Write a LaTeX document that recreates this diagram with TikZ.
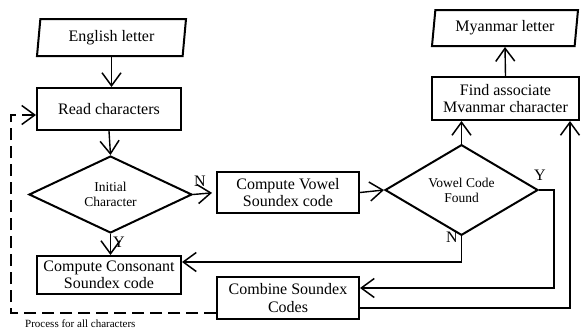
\documentclass[tikz,border=0pt]{standalone}
\usepackage{fontspec}
\setmainfont{Liberation Serif}
\usetikzlibrary{shapes.geometric,arrows.meta}

\begin{document}
\begin{tikzpicture}[x=1pt,y=-1pt,
    proc/.style={draw, line width=2pt, rectangle, inner sep=0pt, align=center,
      font=\fontsize{16}{17.5}\selectfont},
    io/.style={draw, line width=2pt, trapezium, trapezium left angle=77,
      trapezium right angle=103, trapezium stretches body, inner sep=0pt,
      font=\fontsize{16}{17.5}\selectfont},
    test/.style={draw, line width=2pt, diamond, inner sep=0pt, align=center,
      font=\fontsize{13.5}{15}\selectfont},
    link/.style={-{Straight Barb[length=13pt,width=19pt,line width=1.5pt]}, line width=1.4pt},
    lbl/.style={font=\fontsize{16}{17}\selectfont, inner sep=0pt}]
  \useasboundingbox (0,0) rectangle (581,333);

  %left column
  \node[io, minimum width=149pt, minimum height=37pt] (english) at (111.5,37.5) {English letter};
  \node[proc, minimum width=144pt, minimum height=42pt] (read) at (109,109) {Read characters};
  \node[test, minimum width=163pt, minimum height=67pt] (initial) at (110.5,194.5) {Initial\\Character};
  \node[proc, minimum width=144pt, minimum height=38pt] (consonant) at (109,275) {Compute Consonant\\Soundex code};

  %middle column
  \node[proc, minimum width=142pt, minimum height=41pt] (vowel) at (288,192.5) {Compute Vowel\\Soundex code};
  \node[proc, minimum width=142pt, minimum height=42pt] (combine) at (288,298) {Combine Soundex\\Codes};

  %right column
  \node[io, minimum width=146pt, minimum height=36pt] (myanmar) at (505,28) {Myanmar letter};
  \node[proc, minimum width=147pt, minimum height=43pt] (find) at (505.5,98.5) {Find associate\\Mvanmar character};
  \node[test, minimum width=153pt, minimum height=68pt] (found) at (461.5,190) {Vowel Code\\Found};

  %arrows
  \draw[link] (english.south) -- (english.south |- read.north);
  \draw[link] (read.south) -- (initial.north);
  \draw[link, shorten >=4pt] (initial.east) -- (vowel.west);
  \draw[link] (initial.south) -- (initial.south |- consonant.north);
  \draw[link] (vowel.east) -- (found.west);
  \draw[link] (found.north) -- (found.north |- find.south);
  \draw[link] (found.east) -- ++(15,0) |- ([yshift=10pt]combine.east);
  \draw[link] (found.south) |- ([yshift=13pt]consonant.east);
  \draw[link] ([yshift=-10pt]combine.east) -| ([xshift=-10pt]find.south east);
  \draw[link] (find.north) -- (myanmar.south);
  \draw[link, dash pattern=on 12pt off 6pt]
    ([yshift=-15pt]combine.west) -| ([xshift=-25pt,yshift=-6pt]read.west) -- ([yshift=-6pt]read.west);

  %labels
  \node[lbl] (initialn) at (200,181) {N};
  \node[lbl] (initialy) at (119,242) {Y};
  \node[lbl] (foundy) at (540,175) {Y};
  \node[lbl] (foundn) at (452,237) {N};
  \node[anchor=west, inner sep=0pt, font=\fontsize{11}{13}\selectfont] (loop) at (25,324) {Process for all characters};
\end{tikzpicture}
\end{document}
